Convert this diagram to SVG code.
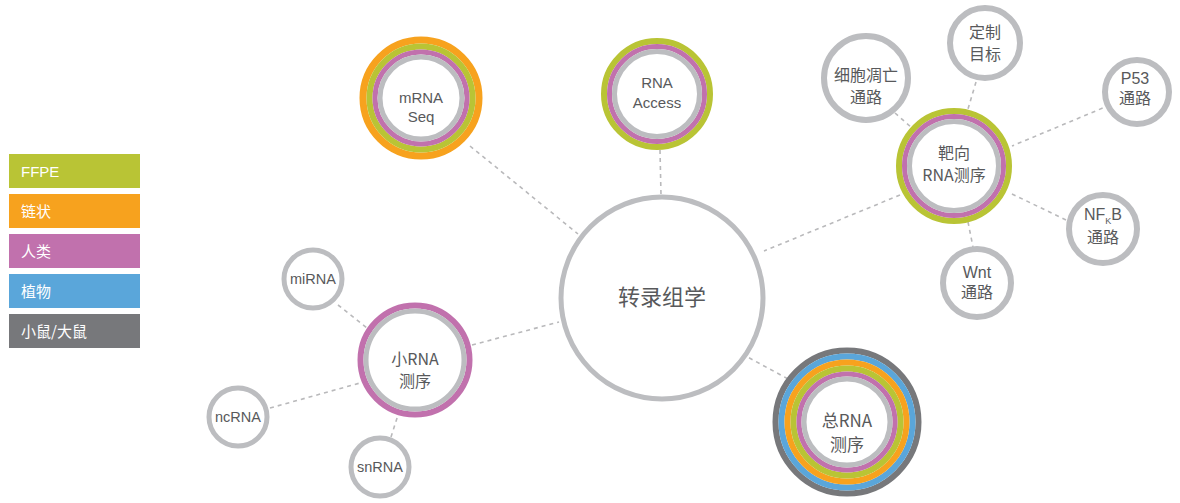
<svg xmlns="http://www.w3.org/2000/svg" width="1180" height="503" viewBox="0 0 1180 503">
<style>
.bg{fill:#ffffff}
.conn line{stroke:#b9b9bb;stroke-width:1.6;stroke-dasharray:4 4;fill:none}
.ring{fill:none}
.g{stroke:#bcbdc0}
.p{stroke:#c171ad}
.f{stroke:#b9c435}
.o{stroke:#f7a21e}
.b{stroke:#5aa6da}
.d{stroke:#77787b}
.inner{fill:#ffffff}
text{font-family:"Liberation Sans","Noto Sans CJK SC",sans-serif;fill:#58595b;text-anchor:middle}
.cjk{font-family:"Noto Sans CJK SC","Liberation Sans",sans-serif}
.leg text{fill:#ffffff;text-anchor:start;font-size:15px}
</style>
<rect class="bg" x="0" y="0" width="1180" height="503"/>
<g id="connectors" class="conn">
<line x1="470" y1="146" x2="578" y2="234"/>
<line x1="660" y1="150" x2="661" y2="195"/>
<line x1="900" y1="195" x2="764" y2="251"/>
<line x1="742" y1="354" x2="790" y2="380"/>
<line x1="472" y1="345" x2="559" y2="322"/>
<line x1="338" y1="305" x2="372" y2="332"/>
<line x1="270" y1="408" x2="360" y2="383"/>
<line x1="391" y1="437" x2="398" y2="415"/>
<line x1="895" y1="113" x2="912" y2="128"/>
<line x1="976" y1="82" x2="968" y2="109"/>
<line x1="1110" y1="105" x2="1012" y2="146"/>
<line x1="1066" y1="220" x2="1010" y2="193"/>
<line x1="968" y1="222" x2="973" y2="247"/>
</g>
<g id="legend" class="leg">
<rect x="9" y="154" width="131" height="34" fill="#b9c435"/>
<text x="21" y="177">FFPE</text>
<rect x="9" y="194" width="131" height="34" fill="#f7a21e"/>
<text x="21" y="217" class="cjk">链状</text>
<rect x="9" y="234" width="131" height="34" fill="#c171ad"/>
<text x="21" y="257" class="cjk">人类</text>
<rect x="9" y="274" width="131" height="34" fill="#5aa6da"/>
<text x="21" y="297" class="cjk">植物</text>
<rect x="9" y="314" width="131" height="34" fill="#77787b"/>
<text x="21" y="337" class="cjk">小鼠/大鼠</text>
</g>
<g id="node-center">
<circle cx="662" cy="298" r="101" class="inner g" stroke-width="5"/>
<text x="662" y="305" font-size="22" class="cjk">转录组学</text>
</g>
<g id="node-mrnaseq">
<circle cx="421" cy="98" r="58" class="ring o" stroke-width="7"/>
<circle cx="421" cy="98" r="51.5" class="ring f" stroke-width="6"/>
<circle cx="421" cy="98" r="46" class="ring p" stroke-width="5"/>
<circle cx="421" cy="98" r="41" class="inner g" stroke-width="5"/>
<text x="421" y="103" font-size="15">mRNA</text>
<text x="421" y="122" font-size="15">Seq</text>
</g>
<g id="node-rnaaccess">
<circle cx="657" cy="94" r="53" class="ring f" stroke-width="6"/>
<circle cx="657" cy="94" r="47.5" class="ring p" stroke-width="5"/>
<circle cx="657" cy="94" r="42.5" class="inner g" stroke-width="5"/>
<text x="657" y="88" font-size="15">RNA</text>
<text x="657" y="108" font-size="15">Access</text>
</g>
<g id="node-targeted">
<circle cx="954" cy="166" r="55" class="ring f" stroke-width="6"/>
<circle cx="954" cy="166" r="49.5" class="ring p" stroke-width="5"/>
<circle cx="954" cy="166" r="44.5" class="inner g" stroke-width="5"/>
<text x="954" y="159" font-size="16" class="cjk">靶向</text>
<text x="954" y="181" font-size="16" class="cjk">RNA测序</text>
</g>
<g id="node-total">
<circle cx="847" cy="422" r="71.5" class="ring d" stroke-width="6"/>
<circle cx="847" cy="422" r="65.5" class="ring b" stroke-width="6"/>
<circle cx="847" cy="422" r="59.5" class="ring o" stroke-width="6"/>
<circle cx="847" cy="422" r="53.5" class="ring f" stroke-width="6"/>
<circle cx="847" cy="422" r="48" class="ring p" stroke-width="5"/>
<circle cx="847" cy="422" r="43" class="inner g" stroke-width="5"/>
<text x="847" y="427" font-size="17" class="cjk">总RNA</text>
<text x="847" y="451" font-size="17" class="cjk">测序</text>
</g>
<g id="node-small">
<circle cx="415" cy="360" r="54.5" class="ring p" stroke-width="6"/>
<circle cx="415" cy="360" r="49" class="inner g" stroke-width="5"/>
<text x="415" y="365" font-size="16" class="cjk">小RNA</text>
<text x="415" y="387" font-size="16" class="cjk">测序</text>
</g>
<g id="node-mirna">
<circle cx="313" cy="279" r="29" class="inner g" stroke-width="5"/>
<text x="313" y="284" font-size="14.5">miRNA</text>
</g>
<g id="node-ncrna">
<circle cx="238" cy="417" r="29" class="inner g" stroke-width="5"/>
<text x="238" y="422" font-size="14.5">ncRNA</text>
</g>
<g id="node-snrna">
<circle cx="380" cy="467" r="29" class="inner g" stroke-width="5"/>
<text x="380" y="472" font-size="14.5">snRNA</text>
</g>
<g id="node-apoptosis">
<circle cx="866" cy="78" r="42" class="inner g" stroke-width="6"/>
<text x="866" y="81" font-size="16" class="cjk">细胞凋亡</text>
<text x="866" y="103" font-size="16" class="cjk">通路</text>
</g>
<g id="node-custom">
<circle cx="985" cy="43" r="35" class="inner g" stroke-width="6"/>
<text x="985" y="38" font-size="16" class="cjk">定制</text>
<text x="985" y="60" font-size="16" class="cjk">目标</text>
</g>
<g id="node-p53">
<circle cx="1137" cy="92" r="32" class="inner g" stroke-width="6"/>
<text x="1135" y="84" font-size="16">P53</text>
<text x="1135" y="104" font-size="16" class="cjk">通路</text>
</g>
<g id="node-nfkb">
<circle cx="1103" cy="229" r="34" class="inner g" stroke-width="6"/>
<text x="1103" y="220" font-size="16"><tspan>NF</tspan><tspan font-size="9" dy="4">K</tspan><tspan dy="-4">B</tspan></text>
<text x="1103" y="243" font-size="16" class="cjk">通路</text>
</g>
<g id="node-wnt">
<circle cx="977" cy="283" r="34" class="inner g" stroke-width="6"/>
<text x="977" y="278" font-size="16">Wnt</text>
<text x="977" y="298" font-size="16" class="cjk">通路</text>
</g>
</svg>
